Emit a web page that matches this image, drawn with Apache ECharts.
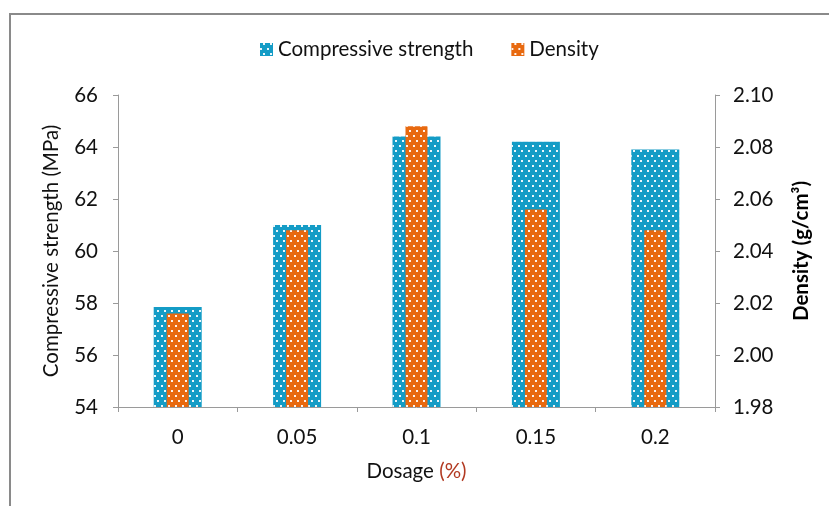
<!DOCTYPE html>
<html>
<head>
<meta charset="utf-8">
<script src="https://cdn.jsdelivr.net/npm/echarts@6/dist/echarts.min.js"></script>
<style>
  html, body { margin: 0; padding: 0; background: #ffffff; }
  #chart { width: 829px; height: 506px; }
</style>
</head>
<body>
<div id="chart"></div>
<script>
// Dosage levels and measured properties
const dosage = ['0', '0.05', '0.1', '0.15', '0.2'];
const strength = [57.85, 61.0, 64.4, 64.2, 63.9];      // MPa
const density = [2.016, 2.048, 2.088, 2.056, 2.048];   // g/cm3

const FONT = 'Lato';
const TEXT_SIZE = 20.5;
const TICK_SIZE = 20.5;
const AXIS_GREY = '#9a9a9a';
const BLUE = '#149CC6';
const ORANGE = '#E8690F';

// white dotted fill, rows staggered by half a period
const dots = {
  symbol: 'rect',
  symbolSize: 1,
  color: 'rgba(255,255,255,0.92)',
  dashArrayX: [[2, 5], [0, 3, 2, 2]],
  dashArrayY: [2, 3],
  rotation: 0
};

const chart = echarts.init(document.getElementById('chart'), null, { renderer: 'canvas' });

const catAxis = (show) => ({
  type: 'category',
  data: dosage,
  show: show,
  axisLine: { show: true, lineStyle: { color: AXIS_GREY, width: 1 } },
  axisTick: { show: true, length: 5, lineStyle: { color: AXIS_GREY } },
  axisLabel: { color: '#111111', fontFamily: FONT, fontSize: TICK_SIZE, margin: 20 },
  name: show ? '{a|Dosage }{b|(%)}' : '',
  nameLocation: 'middle',
  nameGap: 54,
  nameTextStyle: {
    rich: {
      a: { color: '#111111', fontFamily: FONT, fontSize: TEXT_SIZE },
      b: { color: '#B23A22', fontFamily: FONT, fontSize: TEXT_SIZE }
    }
  }
});

chart.setOption({
  animation: false,
  backgroundColor: '#ffffff',
  textStyle: { fontFamily: FONT },
  legend: {
    top: 34,
    left: 255,
    itemWidth: 13,
    itemHeight: 13,
    itemGap: 38,
    icon: 'rect',
    textStyle: { color: '#111111', fontFamily: FONT, fontSize: TEXT_SIZE },
    data: ['Compressive strength', 'Density']
  },
  grid: { left: 118, right: 114, top: 95, bottom: 99, containLabel: false },
  xAxis: [catAxis(true), catAxis(false)],
  yAxis: [
    {
      type: 'value',
      position: 'left',
      min: 54, max: 66, interval: 2,
      splitLine: { show: false },
      axisLine: { show: true, lineStyle: { color: AXIS_GREY } },
      axisTick: { show: true, length: 5, lineStyle: { color: AXIS_GREY } },
      axisLabel: { color: '#111111', fontFamily: FONT, fontSize: TICK_SIZE, margin: 20 },
      name: 'Compressive strength (MPa)',
      nameLocation: 'middle',
      nameRotate: 90,
      nameGap: 56,
      nameTextStyle: { color: '#111111', fontFamily: FONT, fontSize: TEXT_SIZE }
    },
    {
      type: 'value',
      position: 'right',
      min: 1.98, max: 2.10, interval: 0.02,
      splitLine: { show: false },
      axisLine: { show: true, lineStyle: { color: AXIS_GREY } },
      axisTick: { show: true, length: 5, lineStyle: { color: AXIS_GREY } },
      axisLabel: {
        color: '#111111', fontFamily: FONT, fontSize: TICK_SIZE, margin: 18,
        formatter: (v) => v.toFixed(2)
      },
      name: 'Density (g/cm³)',
      nameLocation: 'middle',
      nameRotate: 90,
      nameGap: 76,
      nameTextStyle: { color: '#000000', fontFamily: FONT, fontSize: TEXT_SIZE, fontWeight: 'bold' }
    }
  ],
  series: [
    {
      name: 'Compressive strength',
      type: 'bar',
      xAxisIndex: 0,
      yAxisIndex: 0,
      barWidth: 48,
      data: strength,
      itemStyle: { color: BLUE, decal: dots }
    },
    {
      name: 'Density',
      type: 'bar',
      xAxisIndex: 1,
      yAxisIndex: 1,
      barWidth: 22,
      data: density,
      itemStyle: { color: ORANGE, decal: dots }
    }
  ],
  graphic: [
    {
      type: 'polyline',
      shape: { points: [[10, 506], [10, 14], [829, 14]] },
      style: { stroke: '#8a8a8a', lineWidth: 2, fill: null },
      silent: true
    }
  ]
});
</script>
</body>
</html>
